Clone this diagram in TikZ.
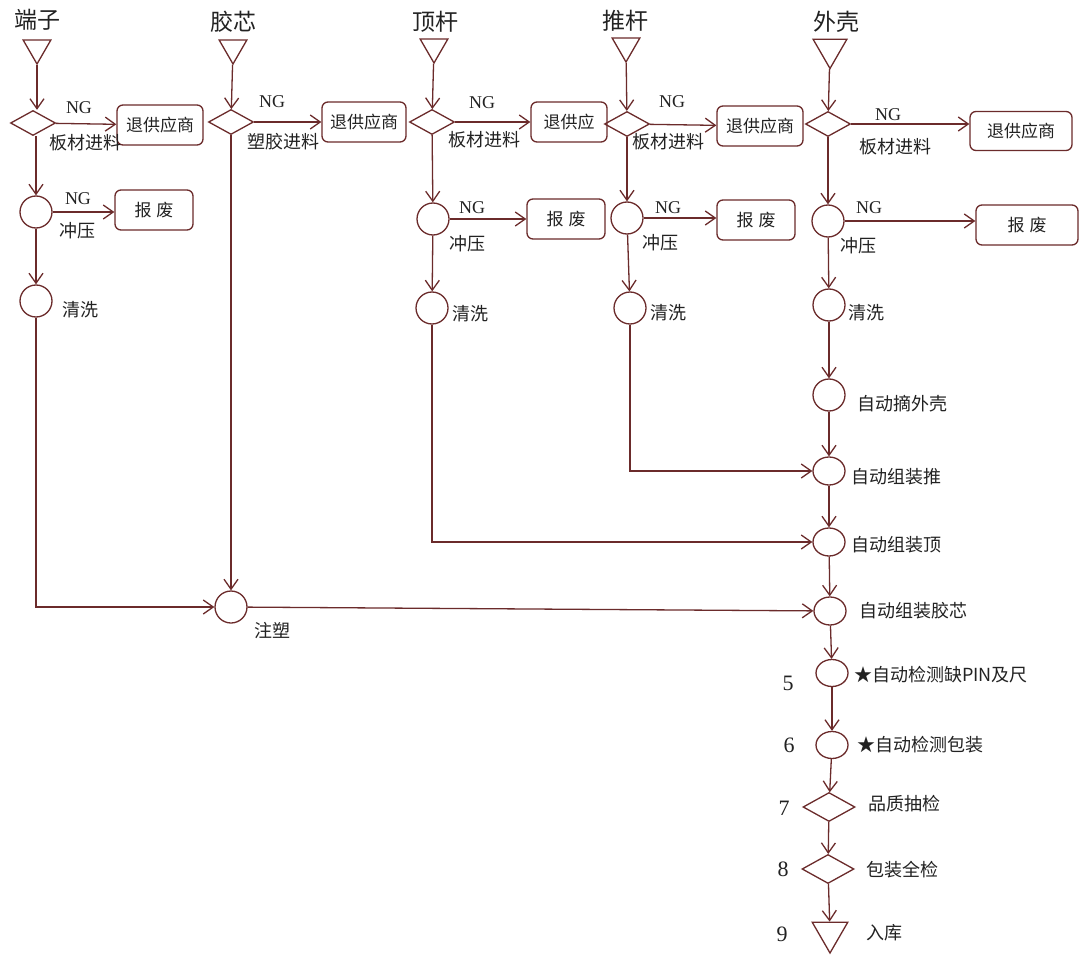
\documentclass[tikz,border=0pt]{standalone}
\usepackage{fontspec}
\setmainfont{Liberation Serif}
\newfontfamily\cjk{Noto Sans CJK SC}
\usetikzlibrary{shapes.geometric,arrows.meta}
\definecolor{ln}{HTML}{6B2B2B}
\definecolor{tx}{HTML}{222222}
\tikzset{
  ln/.style={draw=ln, line width=1.3pt},
  arr/.style={ln, -{Straight Barb[length=10pt,width=14pt]}},
  tri/.style={regular polygon, regular polygon sides=3, shape border rotate=180, draw=ln, line width=1.3pt, minimum size=32pt, inner sep=0pt},
  dia/.style={diamond, draw=ln, line width=1.3pt, minimum width=45pt, minimum height=25pt, inner sep=0pt},
  circ/.style={circle, draw=ln, line width=1.3pt, minimum size=32pt, inner sep=0pt},
  ell/.style={ellipse, draw=ln, line width=1.3pt, minimum width=32pt, minimum height=28pt, inner sep=0pt},
  boxx/.style={draw=ln, line width=1.3pt, rounded corners=6pt, minimum width=86pt, minimum height=40pt, inner sep=0pt, text=tx, font=\cjk\fontsize{17}{17}\selectfont},
  lbl/.style={text=tx, inner sep=0pt, font=\cjk\fontsize{18}{18}\selectfont},
  ttl/.style={text=tx, inner sep=0pt, font=\cjk\fontsize{23}{23}\selectfont},
  ng/.style={text=tx, inner sep=0pt, font=\fontsize{18}{18}\selectfont},
  num/.style={text=tx, inner sep=0pt, font=\fontsize{22}{22}\selectfont}
}
\begin{document}
\begin{tikzpicture}[x=1pt,y=-1pt]
\fill[white] (0,0) rectangle (1079,955);
\useasboundingbox (0,0) rectangle (1079,955);

% ---------- column 1: 端子 ----------
\node[ttl] (t1l) at (37,20) {端子};
\node[tri] (t1) at (37,48) {};
\node[dia] (d1) at (33,123) {};
\node[boxx] (b1) at (160,125) {退供应商};
\node[ng] (ng1) at (79,108) {NG};
\node[lbl] (l1) at (85,143) {板材进料};
\node[circ] (p1) at (36,212) {};
\node[ng] (ng1b) at (78,199) {NG};
\node[lbl] (l1b) at (77,231) {冲压};
\node[boxx, minimum width=78pt] (s1) at (154,210) {报\hspace{5pt}废};
\node[circ] (q1) at (36,301) {};
\node[lbl] (l1c) at (80,310) {清洗};

% ---------- column 2: 胶芯 ----------
\node[ttl] (t2l) at (233,22) {胶芯};
\node[tri] (t2) at (233,48) {};
\node[dia] (d2) at (231,122) {};
\node[ng] (ng2) at (272,102) {NG};
\node[lbl] (l2) at (283,142) {塑胶进料};
\node[boxx, minimum width=84pt] (b2) at (364,122) {退供应商};
\node[circ] (zs) at (231,607) {};
\node[lbl] (lzs) at (272,631) {注塑};

% ---------- column 3: 顶杆 ----------
\node[ttl] (t3l) at (435,22) {顶杆};
\node[tri] (t3) at (434,47) {};
\node[dia] (d3) at (432,122) {};
\node[ng] (ng3) at (482,103) {NG};
\node[lbl] (l3) at (484,140) {板材进料};
\node[boxx, minimum width=76pt] (b3) at (569,122) {退供应};
\node[circ] (p3) at (433,219) {};
\node[ng] (ng3b) at (472,208) {NG};
\node[lbl] (l3b) at (467,244) {冲压};
\node[boxx, minimum width=78pt] (s3) at (566,219) {报\hspace{5pt}废};
\node[circ] (q3) at (432,308) {};
\node[lbl] (l3c) at (470,314) {清洗};

% ---------- column 4: 推杆 ----------
\node[ttl] (t4l) at (625,21) {推杆};
\node[tri] (t4) at (626,46) {};
\node[dia] (d4) at (627,124) {};
\node[ng] (ng4) at (672,102) {NG};
\node[lbl] (l4) at (668,142) {板材进料};
\node[boxx, minimum width=86pt] (b4) at (760,126) {退供应商};
\node[circ] (p4) at (627,218) {};
\node[ng] (ng4b) at (668,208) {NG};
\node[lbl] (l4b) at (660,243) {冲压};
\node[boxx, minimum width=78pt] (s4) at (756,220) {报\hspace{5pt}废};
\node[circ] (q4) at (630,308) {};
\node[lbl] (l4c) at (668,313) {清洗};

% ---------- column 5: 外壳 ----------
\node[ttl] (t5l) at (836,22) {外壳};
\node[tri, minimum size=39pt] (t5) at (830,49) {};
\node[dia] (d5) at (828,124) {};
\node[ng] (ng5) at (888,115) {NG};
\node[lbl] (l5) at (895,147) {板材进料};
\node[boxx, minimum width=102pt, minimum height=39pt] (b5) at (1021,131) {退供应商};
\node[circ] (p5) at (828,221) {};
\node[ng] (ng5b) at (869,208) {NG};
\node[lbl] (l5b) at (858,246) {冲压};
\node[boxx, minimum width=102pt] (s5) at (1027,225) {报\hspace{5pt}废};
\node[circ] (q5) at (829,305) {};
\node[lbl] (l5c) at (866,313) {清洗};

\node[circ] (a0) at (829,395) {};
\node[lbl] (la0) at (902,404) {自动摘外壳};
\node[ell] (a1) at (829,471) {};
\node[lbl] (la1) at (896,477) {自动组装推};
\node[ell] (a2) at (829,542) {};
\node[lbl] (la2) at (896,545) {自动组装顶};
\node[ell] (a3) at (830,611) {};
\node[lbl] (la3) at (913,611) {自动组装胶芯};
\node[ell, minimum height=27pt] (a5) at (832,673) {};
\node[lbl, anchor=west] (la5) at (854,675) {★自动检测缺PIN及尺};
\node[num] (n5) at (788,683) {5};
\node[ell, minimum height=27pt] (a6) at (832,745) {};
\node[lbl, anchor=west] (la6) at (857,745) {★自动检测包装};
\node[num] (n6) at (789,745) {6};
\node[dia, minimum width=52pt, minimum height=29pt] (d7) at (829,807) {};
\node[lbl] (ld7) at (904,804) {品质抽检};
\node[num] (n7) at (784,808) {7};
\node[dia, minimum width=52pt, minimum height=29pt] (d8) at (828,869) {};
\node[lbl] (ld8) at (902,870) {包装全检};
\node[num] (n8) at (783,869) {8};
\node[tri, minimum size=41pt] (t9) at (830,932.5) {};
\node[lbl] (lt9) at (884,933) {入库};
\node[num] (n9) at (782,934) {9};

% ---------- connectors ----------
\draw[arr] (t1) -- (t1|-d1.north);
\draw[arr] (d1) -- (b1);
\draw[arr] (d1.south-|p1) -- (p1);
\draw[arr] (p1) -- (p1-|s1.west);
\draw[arr] (p1) -- (q1);
\draw[arr] (q1.south) |- (zs);

\draw[arr] (t2) -- (d2);
\draw[arr] (d2) -- (b2);
\draw[arr] (d2) -- (zs);
\draw[arr] (zs) -- (a3);

\draw[arr] (t3) -- (d3);
\draw[arr] (d3) -- (b3);
\draw[arr] (d3) -- (p3);
\draw[arr] (p3) -- (s3);
\draw[arr] (p3) -- (q3);
\draw[arr] (q3.south) |- (a2);

\draw[arr] (t4) -- (d4);
\draw[arr] (d4) -- (b4);
\draw[arr] (d4) -- (p4);
\draw[arr] (p4) -- (p4-|s4.west);
\draw[arr] (p4) -- (q4);
\draw[arr] (q4.south) |- (a1);

\draw[arr] (t5) -- (d5);
\draw[arr] (d5) -- (d5-|b5.west);
\draw[arr] (d5) -- (p5);
\draw[arr] (p5) -- (p5-|s5.west);
\draw[arr] (p5) -- (q5);
\draw[arr] (q5) -- (a0);
\draw[arr] (a0) -- (a1);
\draw[arr] (a1) -- (a2);
\draw[arr] (a2) -- (a3);
\draw[arr] (a3) -- (a5);
\draw[arr] (a5) -- (a6);
\draw[arr] (a6) -- (d7);
\draw[arr] (d7) -- (d8);
\draw[arr] (d8) -- (t9);
\end{tikzpicture}
\end{document}
